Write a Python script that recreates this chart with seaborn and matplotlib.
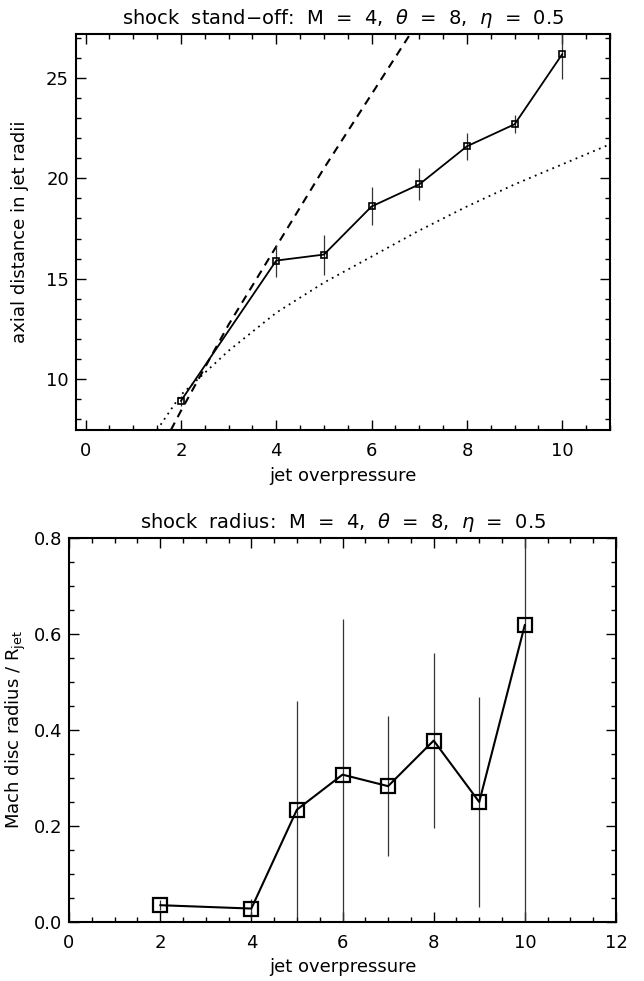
import numpy as np
import pandas as pd
import seaborn as sns
import matplotlib.pyplot as plt
from matplotlib.ticker import MultipleLocator

# top panel: shock stand-off distance
overpressure = [2, 4, 5, 6, 7, 8, 9, 10]
standoff = [8.9, 15.9, 16.2, 18.6, 19.7, 21.6, 22.7, 26.2]
standoff_err = [0.25, 0.8, 1.0, 0.95, 0.8, 0.68, 0.45, 1.25]

# model curves
dashed_x = [1.79, 2.0, 3.0, 4.0, 5.0, 6.0, 7.0]
dashed_y = [7.45, 8.4, 12.7, 16.6, 20.5, 24.2, 27.9]
dotted_x = [1.5, 2.0, 3.0, 4.0, 5.0, 6.0, 7.0, 8.0, 9.0, 10.0, 11.0]
dotted_y = [7.45, 9.2, 11.4, 13.3, 14.8, 16.1, 17.4, 18.6, 19.7, 20.7, 21.7]

# bottom panel: Mach disc radius
radius = [0.035, 0.028, 0.234, 0.307, 0.283, 0.378, 0.250, 0.619]
radius_err = [0.01, 0.02, 0.226, 0.324, 0.146, 0.183, 0.218, 0.65]

df_top = pd.DataFrame({'p': overpressure, 'd': standoff, 'err': standoff_err})
df_bot = pd.DataFrame({'p': overpressure, 'r': radius, 'err': radius_err})

sns.set_style('ticks')
plt.rcParams['font.family'] = ['DejaVu Sans']
plt.rcParams['mathtext.fontset'] = 'dejavusans'
plt.rcParams['text.color'] = 'black'
plt.rcParams['axes.labelcolor'] = 'black'
plt.rcParams['xtick.color'] = 'black'
plt.rcParams['ytick.color'] = 'black'

fig = plt.figure(figsize=(6.44, 9.81), dpi=100)
# axes boxes in pixels: (left, right, top, bottom)
ax1 = fig.add_axes([76 / 644, 1 - 430 / 981, (610 - 76) / 644, (430 - 34) / 981])
ax2 = fig.add_axes([69 / 644, 1 - 922 / 981, (616 - 69) / 644, (922 - 538) / 981])


def style_axes(ax, xmaj, xmin, ymaj, ymin):
    ax.xaxis.set_major_locator(MultipleLocator(xmaj))
    ax.xaxis.set_minor_locator(MultipleLocator(xmin))
    ax.yaxis.set_major_locator(MultipleLocator(ymaj))
    ax.yaxis.set_minor_locator(MultipleLocator(ymin))
    ax.tick_params(which='both', direction='in', top=True, right=True,
                   width=1.0, labelsize=13, color='black')
    ax.tick_params(which='major', length=7)
    ax.tick_params(which='minor', length=3.5)
    ax.tick_params(axis='x', pad=9)
    ax.tick_params(axis='y', pad=5)
    for s in ax.spines.values():
        s.set_linewidth(1.5)
        s.set_color('black')


# --- top panel
sns.lineplot(x=dashed_x, y=dashed_y, ax=ax1, color='black', lw=1.5,
             linestyle=(0, (4, 3)))
sns.lineplot(x=dotted_x, y=dotted_y, ax=ax1, color='black', lw=1.3,
             linestyle=(0, (1, 2.5)))
ax1.errorbar(df_top['p'], df_top['d'], yerr=df_top['err'], fmt='none',
             ecolor='#333333', elinewidth=0.9, capsize=0)
sns.lineplot(data=df_top, x='p', y='d', ax=ax1, color='black', lw=1.3,
             marker='s', markersize=5, markerfacecolor='none',
             markeredgecolor='black', markeredgewidth=1.2)
ax1.set_xlim(-0.2, 11)
ax1.set_ylim(7.45, 27.2)
style_axes(ax1, 2, 0.5, 5, 1)
ax1.set_xlabel('jet overpressure', fontsize=13, labelpad=5)
ax1.set_ylabel('axial distance in jet radii', fontsize=13, labelpad=12)
ax1.set_title(r'shock  stand$-$off:  M  =  4,  $\theta$  =  8,  $\eta$  =  0.5',
              fontsize=14, pad=7)

# --- bottom panel
ax2.errorbar(df_bot['p'], df_bot['r'], yerr=df_bot['err'], fmt='none',
             ecolor='#333333', elinewidth=0.9, capsize=0)
sns.lineplot(data=df_bot, x='p', y='r', ax=ax2, color='black', lw=1.5,
             marker='s', markersize=10, markerfacecolor='none',
             markeredgecolor='black', markeredgewidth=1.6)
ax2.set_xlim(0, 12)
ax2.set_ylim(0, 0.8)
style_axes(ax2, 2, 0.5, 0.2, 0.05)
ax2.yaxis.set_major_formatter(plt.FormatStrFormatter('%.1f'))
ax2.set_xlabel('jet overpressure', fontsize=13, labelpad=4)
ax2.set_ylabel(r'Mach disc radius / R$_{\rm jet}$', fontsize=13, labelpad=4)
ax2.set_title(r'shock  radius:  M  =  4,  $\theta$  =  8,  $\eta$  =  0.5',
              fontsize=14, pad=7)

fig.savefig('out.png', dpi=100, facecolor='white')
